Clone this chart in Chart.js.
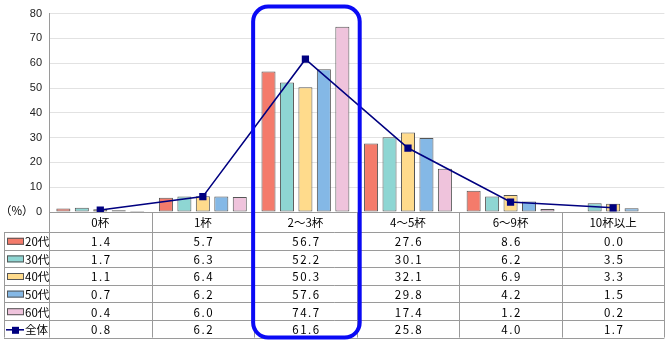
<!DOCTYPE html>
<html>
<head>
<meta charset="utf-8">
<script src="https://cdn.jsdelivr.net/npm/chart.js@4/dist/chart.umd.min.js"></script>
<style>
  body { margin: 0; background: #fff; }
  canvas { display: block; }
</style>
</head>
<body>
<canvas id="cupsChart" width="670" height="342"></canvas>
<script>
const categories = ["0杯", "1杯", "2～3杯", "4～5杯", "6～9杯", "10杯以上"];
const seriesNames = ["20代", "30代", "40代", "50代", "60代", "全体"];
const age20 = [1.4, 5.7, 56.7, 27.6, 8.6, 0.0];
const age30 = [1.7, 6.3, 52.2, 30.1, 6.2, 3.5];
const age40 = [1.1, 6.4, 50.3, 32.1, 6.9, 3.3];
const age50 = [0.7, 6.2, 57.6, 29.8, 4.2, 1.5];
const age60 = [0.4, 6.0, 74.7, 17.4, 1.2, 0.2];
const overall = [0.8, 6.2, 61.6, 25.8, 4.0, 1.7];
const yTicks = [0, 10, 20, 30, 40, 50, 60, 70, 80];
const highlightIndex = 2;

const barColors = ["#f47b6b", "#8ed6d3", "#ffdb8c", "#84b8e6", "#efc3dc"];
const lineColor = "#000080";
const tableFont = '11.5px "Noto Sans CJK JP", sans-serif';

const barSeries = [age20, age30, age40, age50, age60];

let datasets = barSeries.map((values, i) => {
   return {
      type: "bar",
      label: seriesNames[i],
      data: values,
      backgroundColor: barColors[i],
      borderColor: "#555",
      borderWidth: 1,
      borderSkipped: false,
      categoryPercentage: 0.9,
      barPercentage: 0.76,
      order: 1,
   };
});
datasets.push({
   type: "line",
   label: seriesNames[5],
   data: overall,
   borderColor: lineColor,
   borderWidth: 1.6,
   pointStyle: "rect",
   pointRadius: 4,
   pointBackgroundColor: lineColor,
   pointBorderColor: lineColor,
   order: 0,
});

// data table under the plot + the blue highlight box
const tablePlugin = {
   id: "dataTable",
   afterDraw(chart) {
      const ctx = chart.ctx;
      const area = chart.chartArea;
      const xs = chart.scales.x;
      const catW = (area.right - area.left) / categories.length;
      const top = area.bottom;
      const headerH = 20;
      const rowH = 17.6;
      const tableLeft = 4;
      const bottom = top + headerH + rowH * seriesNames.length;

      ctx.save();
      ctx.fillStyle = "#000";
      ctx.font = tableFont;
      ctx.textAlign = "left";
      ctx.textBaseline = "middle";
      ctx.fillText("（%）", 0, top - 1);

      ctx.strokeStyle = "#9a9a9a";
      ctx.lineWidth = 1;
      ctx.beginPath();
      ctx.moveTo(area.left, top + 0.5);
      ctx.lineTo(area.right, top + 0.5);
      for (let r = 0; r <= seriesNames.length; r++) {
         const y = Math.round(top + headerH + r * rowH) + 0.5;
         ctx.moveTo(tableLeft, y);
         ctx.lineTo(area.right, y);
      }
      ctx.moveTo(tableLeft + 0.5, top + headerH);
      ctx.lineTo(tableLeft + 0.5, bottom);
      for (let i = 0; i <= categories.length; i++) {
         const x = Math.round(area.left + i * catW) + 0.5;
         ctx.moveTo(x, top);
         ctx.lineTo(x, bottom);
      }
      ctx.stroke();

      ctx.fillStyle = "#000";
      ctx.textAlign = "center";
      categories.forEach((cat, i) => {
         ctx.fillText(cat, xs.getPixelForValue(i), top + headerH / 2 + 1);
      });

      const allSeries = barSeries.concat([overall]);
      allSeries.forEach((values, r) => {
         const cy = top + headerH + r * rowH + rowH / 2 + 1;
         if (r < barSeries.length) {
            ctx.fillStyle = barColors[r];
            ctx.fillRect(7, cy - 4, 17, 7);
            ctx.strokeStyle = "#555";
            ctx.strokeRect(7.5, cy - 3.5, 16, 6);
         } else {
            ctx.strokeStyle = lineColor;
            ctx.lineWidth = 1.6;
            ctx.beginPath();
            ctx.moveTo(6, cy);
            ctx.lineTo(24, cy);
            ctx.stroke();
            ctx.fillStyle = lineColor;
            ctx.fillRect(12, cy - 3, 7, 7);
         }
         ctx.fillStyle = "#000";
         ctx.textAlign = "left";
         ctx.letterSpacing = "0px";
         ctx.fillText(seriesNames[r], 25, cy);
         ctx.textAlign = "center";
         ctx.letterSpacing = "1.5px";
         values.forEach((v, i) => {
            ctx.fillText(v.toFixed(1), xs.getPixelForValue(i) + 1, cy);
         });
         ctx.letterSpacing = "0px";
      });

      const cx = xs.getPixelForValue(highlightIndex);
      ctx.strokeStyle = "#0a0af5";
      ctx.lineWidth = 4;
      ctx.beginPath();
      ctx.roundRect(cx - catW / 2 - 1, area.top - 7, catW + 4, bottom - area.top + 7, 15);
      ctx.stroke();
      ctx.restore();
   },
};

new Chart(document.getElementById("cupsChart"), {
   data: {
      labels: categories,
      datasets: datasets,
   },
   options: {
      responsive: false,
      animation: false,
      layout: {
         padding: { top: 12, left: 0, right: 4, bottom: 130 },
      },
      plugins: {
         legend: { display: false },
         tooltip: { enabled: false },
      },
      scales: {
         x: {
            display: false,
         },
         y: {
            min: 0,
            max: 80,
            afterFit: (scale) => {
               scale.width = 49;
            },
            afterBuildTicks: (scale) => {
               scale.ticks = yTicks.map((v) => ({ value: v }));
            },
            ticks: {
               color: "#222",
               padding: 7,
               font: { family: "Liberation Sans", size: 11 },
            },
            grid: {
               color: "#e2e2e2",
               drawTicks: false,
            },
            border: { color: "#9a9a9a" },
         },
      },
   },
   plugins: [tablePlugin],
});
</script>
</body>
</html>
